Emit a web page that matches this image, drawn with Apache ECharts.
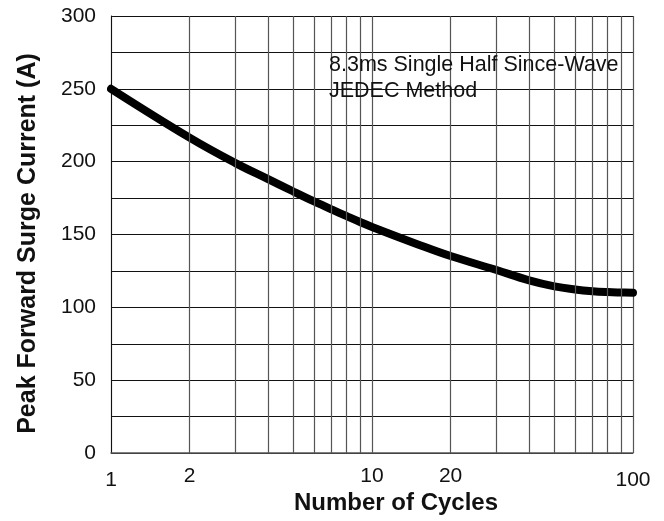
<!DOCTYPE html>
<html>
<head>
<meta charset="utf-8">
<script src="https://cdn.jsdelivr.net/npm/echarts@6/dist/echarts.min.js"></script>
<style>html,body{margin:0;padding:0;background:#fff;}#c{width:664px;height:521px;}</style>
</head>
<body>
<div id="c"></div>
<script>
// Data
const cycles = [1, 2, 3, 4, 5, 6, 7, 8, 9, 10, 15, 20, 30, 40, 50, 60, 70, 80, 90, 100];
const surgeCurrent = [250, 216.5, 199, 188, 179.5, 172.7, 167.2, 162.6, 158.6, 155.2, 143.2, 135.2, 125.6, 118.5, 114.4, 112.3, 111.1, 110.5, 110.2, 110];
const xTickLabels = [1, 2, 10, 20, 100];
const xMinorGrid = [2, 3, 4, 5, 6, 7, 8, 9, 20, 30, 40, 50, 60, 70, 80, 90];
const yTickLabels = [0, 50, 100, 150, 200, 250, 300];
const noteLines = ['8.3ms Single Half Since-Wave', 'JEDEC Method'];
const xTitle = 'Number of Cycles';
const yTitle = 'Peak Forward Surge Current (A)';

const FONT = '"Liberation Sans", Arial, sans-serif';
const chart = echarts.init(document.getElementById('c'), null, {renderer: 'canvas'});
chart.setOption({
  animation: false,
  backgroundColor: '#fff',
  title: {
    text: noteLines.join('\n'),
    left: 324, top: 47,
    textStyle: {fontFamily: FONT, fontSize: 21.5, fontWeight: 'normal', color: '#111', lineHeight: 26}
  },
  grid: {left: 111, right: 31, top: 16, bottom: 68, containLabel: false, outerBoundsMode: 'none'},
  xAxis: {
    type: 'log', logBase: 10, min: 1, max: 100,
    name: xTitle, nameLocation: 'middle', nameGap: 38, nameMoveOverlap: false,
    nameTextStyle: {fontFamily: FONT, fontSize: 24, fontWeight: 'bold', color: '#111', padding: [0, 0, 0, 48]},
    axisLine: {show: true, lineStyle: {color: '#555', width: 1.5}},
    axisTick: {show: false},
    axisLabel: {
      customValues: xTickLabels, fontFamily: FONT, fontSize: 21, color: '#111', margin: 13,
      formatter: v => (v === 1 || v === 100) ? '{lo|' + v + '}' : String(v),
      rich: {lo: {fontFamily: FONT, fontSize: 21, color: '#111', padding: [4, 0, 0, 0]}}
    },
    splitLine: {show: true, lineStyle: {color: '#555', width: 1.2}},
    minorSplitLine: {show: false}
  },
  yAxis: {
    type: 'value', min: 0, max: 300, interval: 25,
    name: yTitle, nameLocation: 'middle', nameGap: 70, nameMoveOverlap: false,
    nameTextStyle: {fontFamily: FONT, fontSize: 25, fontWeight: 'bold', color: '#111', padding: [0, 18, 0, 0]},
    axisLine: {show: true, lineStyle: {color: '#111', width: 1}},
    axisTick: {show: false},
    axisLabel: {customValues: yTickLabels, fontFamily: FONT, fontSize: 21, color: '#111', margin: 15},
    splitLine: {show: true, lineStyle: {color: '#111', width: 1}}
  },
  series: [{
    type: 'line',
    data: cycles.map((c, i) => [c, surgeCurrent[i]]),
    smooth: 0.4,
    showSymbol: false,
    lineStyle: {color: '#000', width: 8, cap: 'round'},
    markLine: {
      silent: true, symbol: 'none', label: {show: false},
      lineStyle: {color: '#555', width: 1.2, type: 'solid'},
      data: xMinorGrid.map(v => ({xAxis: v}))
    },
    z: 3
  }]
});
</script>
</body>
</html>
